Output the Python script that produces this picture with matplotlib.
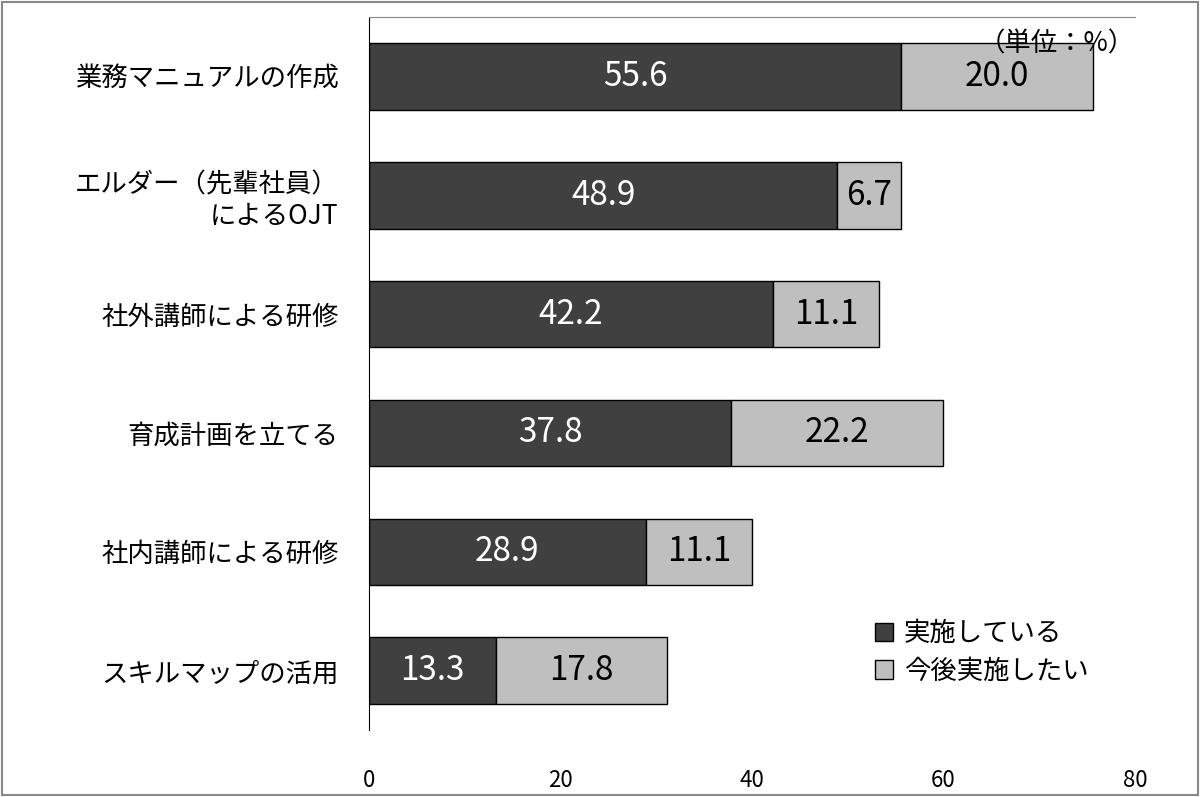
import matplotlib
matplotlib.use("Agg")
import matplotlib.pyplot as plt
from matplotlib.patches import Rectangle

plt.rcParams["font.family"] = "Noto Sans CJK JP"

categories = ["業務マニュアルの作成", "エルダー（先輩社員）\nによるOJT", "社外講師による研修",
              "育成計画を立てる", "社内講師による研修", "スキルマップの活用"]
implemented = [55.6, 48.9, 42.2, 37.8, 28.9, 13.3]
planned = [20.0, 6.7, 11.1, 22.2, 11.1, 17.8]
xticks = [0, 20, 40, 60, 80]

fig = plt.figure(figsize=(12, 7.97), dpi=100)
fig.patches.append(Rectangle((0.002, 0.002), 0.996, 0.996, transform=fig.transFigure,
                             fill=False, edgecolor="#888888", linewidth=1.5))
ax = fig.add_axes([0.3075, 0.084, 0.6383, 0.8947])
y = list(range(len(categories)))
ax.barh(y, implemented, height=0.56, color="#404040", edgecolor="black", linewidth=1, label="実施している")
ax.barh(y, planned, left=implemented, height=0.56, color="#bfbfbf", edgecolor="black", linewidth=1, label="今後実施したい")
for i in y:
    ax.text(implemented[i] / 2, i, f"{implemented[i]:.1f}", color="white", ha="center", va="center", fontsize=24)
    ax.text(implemented[i] + planned[i] / 2, i, f"{planned[i]:.1f}", color="black", ha="center", va="center", fontsize=24)
ax.set_ylim(5.5, -0.5)
ax.set_xlim(0, 80)
ax.set_yticks(y)
ax.set_yticklabels(categories, fontsize=19)
ax.set_xticks(xticks)
ax.set_xticklabels([str(t) for t in xticks], fontsize=16)
ax.tick_params(axis="x", length=0, pad=28)
ax.tick_params(axis="y", length=0, pad=22)
for s in ["right", "bottom"]:
    ax.spines[s].set_visible(False)
ax.spines["top"].set_color("#888888")
ax.text(1.0, 0.962, "（単位：%）", transform=ax.transAxes, ha="right", va="center", fontsize=19)
leg = ax.legend(loc="lower right", bbox_to_anchor=(0.97, 0.03), frameon=False, fontsize=19,
                handlelength=0.7, handleheight=0.7, labelspacing=0.4, handletextpad=0.4)
fig.savefig("out.png", dpi=100)
